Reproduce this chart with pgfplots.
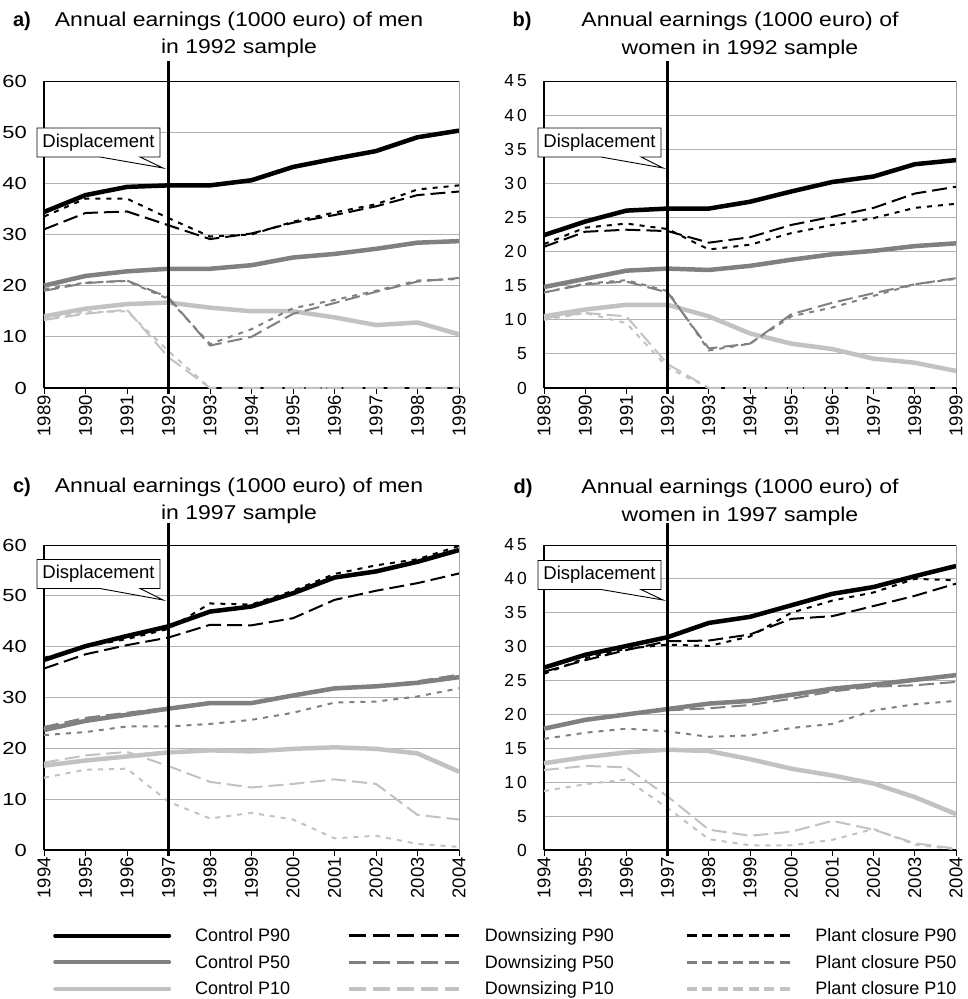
\documentclass[border=0pt]{standalone}
\usepackage{fontspec}
\setmainfont{Liberation Sans}
\newfontfamily\yfontA[FakeStretch=1.25]{Liberation Sans}
\newfontfamily\titfont[FakeStretch=1.15]{Liberation Sans}
\usepackage{pgfplots}
\pgfplotsset{compat=1.18}
\usepackage{pgfplotstable}
\usetikzlibrary{shapes.callouts}

\definecolor{g90}{gray}{0}
\definecolor{g50}{gray}{0.5}
\definecolor{g10}{gray}{0.76}

\pgfplotstableread{
year c90 d90 p90 c50 d50 p50 c10 d10 p10
1989 34.4 31.0 33.5 20.0 19.0 19.3 14.0 13.3 13.5
1990 37.7 34.2 37.0 21.9 20.5 20.6 15.5 14.5 14.8
1991 39.3 34.5 37.0 22.8 21.0 20.9 16.4 15.3 15.0
1992 39.6 31.8 33.2 23.3 17.7 17.4 16.7 6.0 7.2
1993 39.6 29.1 29.6 23.3 8.3 8.6 15.7 0 0
1994 40.6 30.2 30.0 24.0 10.0 11.5 15.0 0 0
1995 43.2 32.3 32.5 25.5 14.5 15.6 15.0 0 0
1996 44.8 33.8 34.3 26.2 16.6 17.2 13.8 0 0
1997 46.3 35.5 35.9 27.2 18.8 19.0 12.3 0 0
1998 49.0 37.7 38.8 28.4 20.8 21.0 12.8 0 0
1999 50.3 38.4 39.6 28.7 21.5 21.3 10.5 0 0
}\tabA

\pgfplotstableread{
year c90 d90 p90 c50 d50 p50 c10 d10 p10
1989 22.4 20.7 21.1 14.8 14.0 14.0 10.5 10.2 10.0
1990 24.4 22.9 23.5 16.0 15.2 15.3 11.5 11.0 11.0
1991 26.0 23.2 24.1 17.2 15.6 15.8 12.2 10.5 9.5
1992 26.3 23.0 23.3 17.5 14.0 14.2 12.2 3.5 3.0
1993 26.3 21.3 20.3 17.3 5.8 5.5 10.5 0 0
1994 27.3 22.1 21.0 17.9 6.5 6.5 8.0 0 0
1995 28.8 23.9 22.7 18.8 10.8 10.5 6.5 0 0
1996 30.2 25.1 23.9 19.6 12.5 11.8 5.7 0 0
1997 31.0 26.4 24.9 20.1 13.9 13.5 4.3 0 0
1998 32.8 28.5 26.4 20.8 15.2 15.2 3.7 0 0
1999 33.4 29.5 27.0 21.2 16.1 16.0 2.5 0 0
}\tabB

\pgfplotstableread{
year c90 d90 p90 c50 d50 p50 c10 d10 p10
1994 37.4 35.7 37.8 23.6 24.2 22.6 16.6 17.2 14.2
1995 40.1 38.5 40.0 25.4 26.0 23.2 17.6 18.6 15.8
1996 42.1 40.3 41.5 26.6 27.0 24.3 18.4 19.3 16.0
1997 44.0 41.8 43.5 27.8 28.0 24.3 19.2 16.5 9.5
1998 46.9 44.3 48.5 28.9 28.9 24.8 19.6 13.4 6.2
1999 47.9 44.2 48.3 28.9 28.9 25.6 19.4 12.3 7.3
2000 50.5 45.6 51.0 30.4 30.3 27.0 19.9 13.0 6.0
2001 53.6 49.2 54.3 31.8 31.6 29.0 20.2 13.9 2.3
2002 54.8 51.0 56.0 32.2 32.2 29.2 19.9 13.0 2.8
2003 56.7 52.5 57.2 32.9 33.2 30.2 19.0 6.9 1.2
2004 59.0 54.4 59.8 34.0 34.5 31.8 15.4 6.0 0.6
}\tabC

\pgfplotstableread{
year c90 d90 p90 c50 d50 p50 c10 d10 p10
1994 26.9 26.3 26.0 17.9 17.9 16.4 12.8 11.8 8.7
1995 28.8 28.0 28.3 19.2 19.2 17.3 13.7 12.4 9.7
1996 30.1 29.5 29.7 20.0 20.0 17.9 14.4 12.2 10.4
1997 31.4 30.8 30.3 20.8 20.6 17.5 14.8 7.9 6.2
1998 33.5 30.9 30.1 21.6 20.9 16.7 14.6 3.0 1.6
1999 34.4 31.8 31.5 22.0 21.4 16.9 13.4 2.1 0.7
2000 36.1 34.1 35.0 22.9 22.3 18.0 12.0 2.7 0.7
2001 37.8 34.5 36.8 23.8 23.4 18.6 11.0 4.3 1.5
2002 38.8 36.0 38.0 24.4 24.1 20.6 9.8 3.0 3.1
2003 40.4 37.5 40.0 25.1 24.3 21.5 7.8 1.0 0.8
2004 41.9 39.3 39.8 25.8 24.8 22.0 5.3 0.2 0.1
}\tabD

\pgfplotsset{
  panel/.style={
    scale only axis, anchor=south west, enlargelimits=false, ymin=0,
    axis x line*=bottom, axis y line*=left,
    x axis line style={-, black, line width=1.3pt},
    y axis line style={-, black, line width=2pt},
    tick align=outside, major tick length=6pt,
    xtick style={black, line width=0.8pt}, ytick style={draw=none},
    ymajorgrids, grid style={gray!60, line width=0.8pt},
    clip=false,
    xticklabel style={font=\fontsize{18.5}{19}\selectfont, rotate=90, anchor=east, inner sep=1pt},
    yticklabel style={inner sep=0pt, xshift=-11pt},
    after end axis/.code={
      \draw[black, line width=0.8pt] (rel axis cs:0,1) -- (rel axis cs:1,1);
      \draw[gray!70, line width=1pt] (rel axis cs:1,0) -- (rel axis cs:1,1);
    },
  },
  ctl/.style={line width=4.5pt, line join=round},
  dwn/.style={line width=2pt, dash pattern=on 15pt off 6pt},
  plc/.style={line width=2pt, dash pattern=on 5pt off 6pt},
  yA/.style={ymax=60, ytick={0,10,...,60}, yticklabels={0,10,20,30,40,50,60},
    yticklabel style={font=\yfontA\fontsize{17.5}{18}\selectfont}},
  yB/.style={ymax=45, ytick={0,5,...,45},
    yticklabels={0,5,1\kern3pt0,1\kern3pt5,2\kern3pt0,2\kern3pt5,3\kern3pt0,3\kern3pt5,4\kern3pt0,4\kern3pt5},
    yticklabel style={font=\fontsize{17.5}{18}\selectfont}},
  xA/.style={xmin=1989, xmax=1999, xtick={1989,...,1999},
    xticklabels={1989,1990,1991,1992,1993,1994,1995,1996,1997,1998,1999}},
  xC/.style={xmin=1994, xmax=2004, xtick={1994,...,2004},
    xticklabels={1994,1995,1996,1997,1998,1999,2000,2001,2002,2003,2004}},
}

\newcommand{\allseries}[1]{%
  \addplot[g10, dwn, forget plot] table[x=year, y=d10] {#1};
  \addplot[g10, plc, forget plot] table[x=year, y=p10] {#1};
  \addplot[g10, ctl, forget plot] table[x=year, y=c10] {#1};
  \addplot[g50, dwn, forget plot] table[x=year, y=d50] {#1};
  \addplot[g50, plc, forget plot] table[x=year, y=p50] {#1};
  \addplot[g50, ctl, forget plot] table[x=year, y=c50] {#1};
  \addplot[g90, dwn, forget plot] table[x=year, y=d90] {#1};
  \addplot[g90, plc, forget plot] table[x=year, y=p90] {#1};
  \addplot[g90, ctl, forget plot] table[x=year, y=c90] {#1};
}

\tikzset{disp/.style={rectangle callout, draw=black, line width=0.9pt, fill=white,
  minimum width=123pt, minimum height=29pt, inner sep=0pt,
  font=\fontsize{18.5}{19}\selectfont, callout pointer width=40pt}}

\begin{document}
\begin{tikzpicture}
\useasboundingbox (0,0) rectangle (967pt,999pt);

% Panel a
\begin{axis}[panel, xA, yA, at={(44pt,611pt)}, width=415pt, height=307pt]
  \allseries{\tabA}
  \draw[line width=2.5pt] ([yshift=-6pt]axis cs:1992,0) -- ([yshift=20pt]axis cs:1992,60);
\end{axis}

% Panel b
\begin{axis}[panel, xA, yB, at={(544pt,611pt)}, width=412pt, height=307pt]
  \allseries{\tabB}
  \draw[line width=2.5pt] ([yshift=-6pt]axis cs:1992,0) -- ([yshift=20pt]axis cs:1992,45);
\end{axis}

% Panel c
\begin{axis}[panel, xC, yA, at={(44pt,149pt)}, width=415pt, height=305pt,
  legend columns=3, legend cell align=left,
  legend style={draw=none, fill=none, inner sep=0pt,
    at={(axis description cs:0.0217,-0.25)}, anchor=north west,
    font=\fontsize{18}{20}\selectfont, row sep=8pt,
    /tikz/every odd column/.append style={column sep=22pt},
    /tikz/column 2/.style={column sep=55pt},
    /tikz/column 4/.style={column sep=69pt}}]
  \addlegendimage{legend image code/.code={\draw[g90, line width=4pt, line cap=round] (0pt,0pt) -- (114pt,0pt);}}
  \addlegendentry{Control P90}
  \addlegendimage{legend image code/.code={\draw[g90, line width=3.5pt, dash pattern=on 17pt off 7pt] (0pt,0pt) -- (110pt,0pt);}}
  \addlegendentry{Downsizing P90}
  \addlegendimage{legend image code/.code={\draw[g90, line width=3.5pt, dash pattern=on 10pt off 5.5pt] (0pt,0pt) -- (103pt,0pt);}}
  \addlegendentry{Plant closure P90}
  \addlegendimage{legend image code/.code={\draw[g50, line width=4pt, line cap=round] (0pt,0pt) -- (114pt,0pt);}}
  \addlegendentry{Control P50}
  \addlegendimage{legend image code/.code={\draw[g50, line width=3.5pt, dash pattern=on 17pt off 7pt] (0pt,0pt) -- (110pt,0pt);}}
  \addlegendentry{Downsizing P50}
  \addlegendimage{legend image code/.code={\draw[g50, line width=3.5pt, dash pattern=on 10pt off 5.5pt] (0pt,0pt) -- (103pt,0pt);}}
  \addlegendentry{Plant closure P50}
  \addlegendimage{legend image code/.code={\draw[g10, line width=4pt, line cap=round] (0pt,0pt) -- (114pt,0pt);}}
  \addlegendentry{Control P10}
  \addlegendimage{legend image code/.code={\draw[g10, line width=3.5pt, dash pattern=on 17pt off 7pt] (0pt,0pt) -- (110pt,0pt);}}
  \addlegendentry{Downsizing P10}
  \addlegendimage{legend image code/.code={\draw[g10, line width=3.5pt, dash pattern=on 10pt off 5.5pt] (0pt,0pt) -- (103pt,0pt);}}
  \addlegendentry{Plant closure P10}
  \allseries{\tabC}
  \draw[line width=2.5pt] ([yshift=-6pt]axis cs:1997,0) -- ([yshift=22pt]axis cs:1997,60);
\end{axis}

% Panel d
\begin{axis}[panel, xC, yB, at={(544pt,149pt)}, width=412pt, height=305pt]
  \allseries{\tabD}
  \draw[line width=2.5pt] ([yshift=-6pt]axis cs:1997,0) -- ([yshift=22pt]axis cs:1997,45);
\end{axis}

% Callouts
\node[disp, callout absolute pointer={(163pt,831pt)}] at (98.5pt,856.5pt) {Displacement};
\node[disp, callout absolute pointer={(663pt,831pt)}] at (599.5pt,856.5pt) {Displacement};
\node[disp, callout absolute pointer={(163pt,399pt)}] at (98.5pt,425pt) {Displacement};
\node[disp, callout absolute pointer={(663pt,399pt)}] at (599.5pt,424pt) {Displacement};

% Titles
\begin{scope}[every node/.style={anchor=base, inner sep=0pt}]
\node[font=\bfseries\fontsize{20}{22}\selectfont] at (22pt,972pt) {a)};
\node[font=\titfont\fontsize{20}{22}\selectfont] at (239pt,972pt) {Annual earnings (1000 euro) of men};
\node[font=\titfont\fontsize{20}{22}\selectfont] at (239pt,945pt) {in 1992 sample};
\node[font=\bfseries\fontsize{20}{22}\selectfont] at (522pt,972pt) {b)};
\node[font=\titfont\fontsize{20}{22}\selectfont] at (740pt,972pt) {Annual earnings (1000 euro) of};
\node[font=\titfont\fontsize{20}{22}\selectfont] at (740pt,944pt) {women in 1992 sample};
\node[font=\bfseries\fontsize{20}{22}\selectfont] at (22pt,506pt) {c)};
\node[font=\titfont\fontsize{20}{22}\selectfont] at (239pt,506pt) {Annual earnings (1000 euro) of men};
\node[font=\titfont\fontsize{20}{22}\selectfont] at (239pt,479pt) {in 1997 sample};
\node[font=\bfseries\fontsize{20}{22}\selectfont] at (523pt,505pt) {d)};
\node[font=\titfont\fontsize{20}{22}\selectfont] at (740pt,505pt) {Annual earnings (1000 euro) of};
\node[font=\titfont\fontsize{20}{22}\selectfont] at (740pt,477pt) {women in 1997 sample};
\end{scope}
\end{tikzpicture}
\end{document}
